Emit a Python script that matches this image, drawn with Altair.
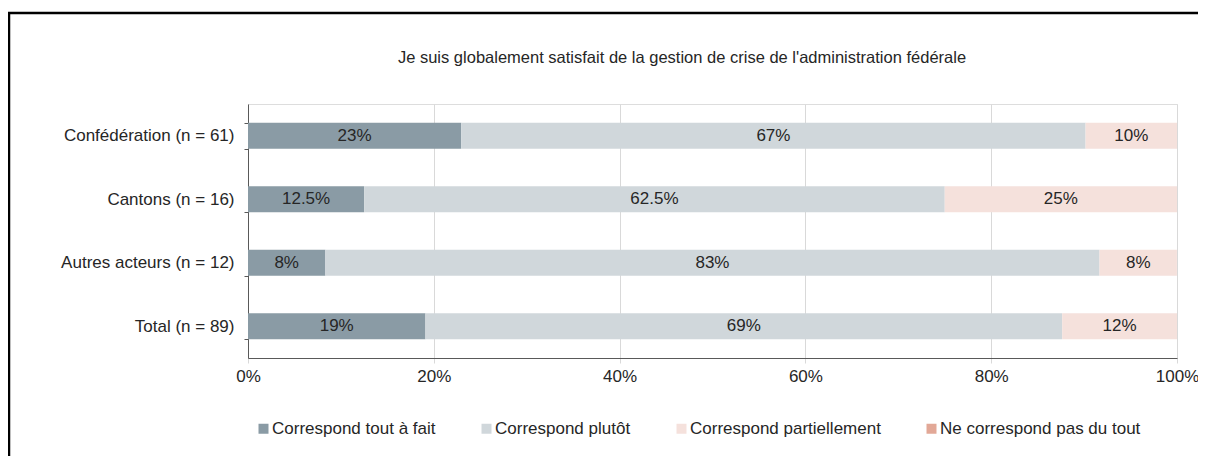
import altair as alt
import pandas as pd

groups = ["Confédération (n = 61)", "Cantons (n = 16)", "Autres acteurs (n = 12)", "Total (n = 89)"]
answers = ["Correspond tout à fait", "Correspond plutôt", "Correspond partiellement", "Ne correspond pas du tout"]
colors = ["#8a9ba5", "#d0d7db", "#f5e1dc", "#e2a897"]

tout_a_fait = [22.95, 12.5, 8.33, 19.10]
plutot = [67.21, 62.5, 83.33, 68.54]
partiellement = [9.84, 25.0, 8.33, 12.36]
pas_du_tout = [0, 0, 0, 0]

labels_tout = ["23%", "12.5%", "8%", "19%"]
labels_plutot = ["67%", "62.5%", "83%", "69%"]
labels_part = ["10%", "25%", "8%", "12%"]
labels_pas = ["", "", "", ""]

x_ticks = [0, 20, 40, 60, 80, 100]
title_text = ["Je suis globalement  satisfait de la gestion de crise de l'administration  fédérale"]

FONT = "Liberation Sans"
TXT = "#262626"
FS = 17

rows = []
series = [tout_a_fait, plutot, partiellement, pas_du_tout]
labels = [labels_tout, labels_plutot, labels_part, labels_pas]
for k, ans in enumerate(answers):
    for i, g in enumerate(groups):
        rows.append({"group": g, "answer": ans, "ord": k,
                     "value": series[k][i], "label": labels[k][i]})
df = pd.DataFrame(rows)

base = alt.Chart(df).transform_stack(
    stack="value", groupby=["group"], as_=["x0", "x1"],
    sort=[alt.SortField("ord", order="ascending")]
).transform_calculate(mid="(datum.x0 + datum.x1) / 2")

yenc = alt.Y("group:N", sort=groups, title=None,
             scale=alt.Scale(paddingInner=0.59, paddingOuter=0.295),
             axis=alt.Axis(tickBand="extent", tickSize=4, tickColor="#595959",
                           domainColor="#595959", labelPadding=10, labelFontSize=FS,
                           labelFont=FONT, labelColor=TXT, grid=False))

bars = base.mark_bar(strokeWidth=0).encode(
    x=alt.X("x0:Q", title=None, scale=alt.Scale(domain=[0, 100], nice=False),
            axis=alt.Axis(values=x_ticks, labelExpr="datum.value + '%'", grid=True,
                          gridColor="#d9d9d9", tickColor="#d9d9d9", tickSize=5,
                          domainColor="#595959", labelPadding=5, labelFontSize=FS,
                          labelFont=FONT, labelColor=TXT, labelFlush=False)),
    x2="x1:Q",
    y=yenc,
    color=alt.Color("answer:N", scale=alt.Scale(domain=answers, range=colors),
                    legend=alt.Legend(title=None, orient="none", direction="horizontal",
                                      legendX=7, legendY=316, symbolType="square",
                                      symbolSize=100, symbolStrokeWidth=0,
                                      labelOffset=0, columnPadding=42,
                                      labelFontSize=FS, labelFont=FONT, labelColor=TXT,
                                      labelLimit=400)),
)

text = base.transform_filter("datum.value > 0").mark_text(
    fontSize=FS, font=FONT, color=TXT
).encode(
    x=alt.X("mid:Q"),
    y=alt.Y("group:N", sort=groups),
    text="label:N",
)

title = alt.Chart(pd.DataFrame({"t": title_text})).mark_text(
    fontSize=16.5, font=FONT, color=TXT, align="center", baseline="middle"
).encode(text="t:N", x=alt.value(434), y=alt.value(-46))

frame_df = pd.DataFrame({"k": [0]})
top_rule = alt.Chart(frame_df).mark_rule(color="#000000", strokeWidth=2.5).encode(
    x=alt.value(-240), x2=alt.value(1000), y=alt.value(-91))
left_rule = alt.Chart(frame_df).mark_rule(color="#000000", strokeWidth=2.5).encode(
    x=alt.value(-239), y=alt.value(-91), y2=alt.value(420))

chart = alt.layer(bars, text, title, top_rule, left_rule).properties(
    width=929, height=254,
    autosize=alt.AutoSizeParams(type="none"),
    padding={"left": 240, "top": 96, "right": 21, "bottom": 98},
).configure_view(stroke=None).configure(background="white")

chart.save("out.html", embed_options={"renderer": "svg", "actions": False})
